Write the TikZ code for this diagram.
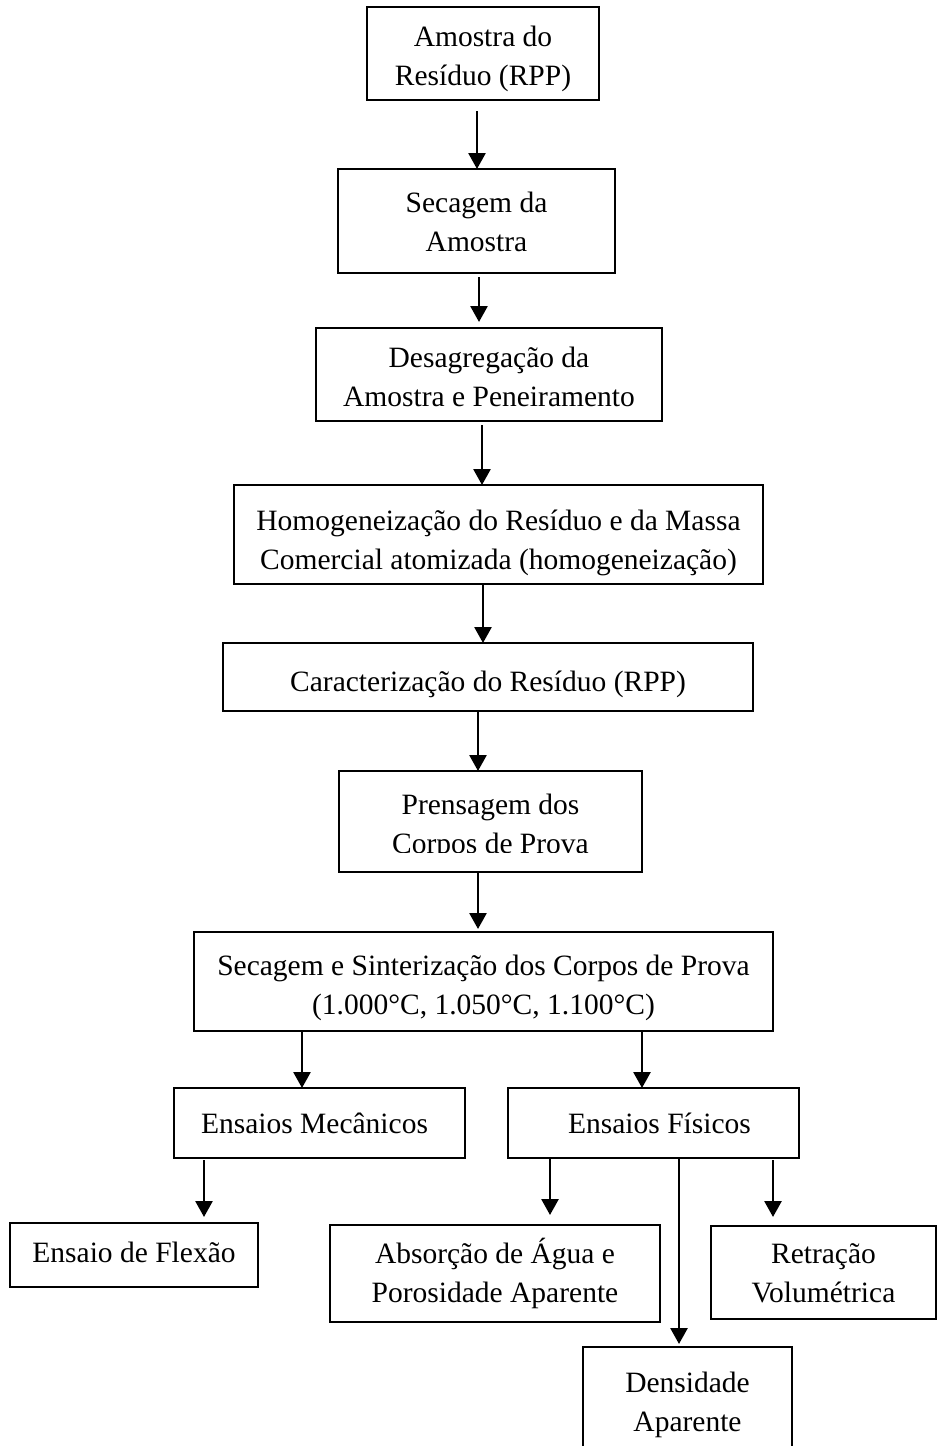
\documentclass[tikz,border=0pt]{standalone}
\usepackage{fontspec}
\setmainfont{Liberation Serif}
\usetikzlibrary{arrows.meta}
\newcommand\fs{\fontsize{29.5}{39}\selectfont}
\tikzset{
  box/.style={draw, line width=1.8pt, inner sep=0pt, outer sep=0pt},
  arr/.style={line width=2.7pt, -{Triangle[length=16pt,width=17pt]}},
  txt/.style={inner sep=0pt, outer sep=0pt, align=center, font=\fs}
}
\begin{document}
\begin{tikzpicture}[x=1pt,y=-1pt]
\useasboundingbox (0,0) rectangle (939,1446);
\clip (0,0) rectangle (939,1446);
\fill[white] (0,0) rectangle (939,1446);

\node[box, minimum width=232pt, minimum height=93pt] (b1) at (483,53.5) {};
\node[txt] (t1) at ([yshift=-5pt]b1.center) {Amostra do\\Resíduo (RPP)};
\node[box, minimum width=277pt, minimum height=104pt] (b2) at (476.5,221) {};
\node[txt] (t2) at ([yshift=-1pt]b2.center) {Secagem da\\Amostra};
\node[box, minimum width=346pt, minimum height=93pt] (b3) at (489,374.5) {};
\node[txt] (t3) at ([yshift=-2pt]b3.center) {Desagregação da\\Amostra e Peneiramento};
\node[box, minimum width=529pt, minimum height=99pt] (b4) at (498.5,534.5) {};
\node[txt] (t4) at ([yshift=-8pt]b4.center) {Homogeneização do Resíduo e da Massa\\Comercial atomizada (homogeneização)};
\node[box, minimum width=530pt, minimum height=68pt] (b5) at (488,677) {};
\node[txt] (t5) at ([yshift=-7pt]b5.center) {Caracterização do Resíduo (RPP)};
\node[box, minimum width=303pt, minimum height=101pt] (b6) at (490.5,821.5) {};
\coordinate (cut) at (0,852);
\begin{scope}
  \clip (b6.north west) rectangle (b6.east |- cut);
  \node[txt] (t6) at ([yshift=-5pt]b6.center) {Prensagem dos\\Corpos de Prova};
\end{scope}
\node[box, minimum width=579pt, minimum height=99pt] (b7) at (483.5,981.5) {};
\node[txt] (t7) at ([yshift=-6pt]b7.center) {Secagem e Sinterização dos Corpos de Prova\\(1.000°C, 1.050°C, 1.100°C)};
\node[box, minimum width=291pt, minimum height=70pt] (b8) at (319.5,1123) {};
\node[txt] (t8) at ([xshift=-5pt]b8.center) {Ensaios Mecânicos};
\node[box, minimum width=291pt, minimum height=70pt] (b9) at (653.5,1123) {};
\node[txt] (t9) at ([xshift=6pt]b9.center) {Ensaios Físicos};
\node[box, minimum width=248pt, minimum height=64pt] (b10) at (134,1255) {};
\node[txt] (t10) at ([yshift=3pt]b10.center) {Ensaio de Flexão};
\node[box, minimum width=330pt, minimum height=97pt] (b11) at (495,1273.5) {};
\node[txt] (t11) at (b11.center) {Absorção de Água e\\Porosidade Aparente};
\node[box, minimum width=225pt, minimum height=93pt] (b12) at (823.5,1272.5) {};
\node[txt] (t12) at ([yshift=-1pt]b12.center) {Retração\\Volumétrica};
\node[box, minimum width=209pt, minimum height=108pt] (b13) at (687.5,1401) {};
\node[txt] (t13) at ([yshift=-4pt]b13.center) {Densidade\\Aparente};

\coordinate (x1) at (477,0);
\coordinate (x2) at (479,0);
\coordinate (x3) at (482,0);
\coordinate (x4) at (483,0);
\coordinate (x5) at (478,0);
\coordinate (x7) at (302,0);
\coordinate (x8) at (642,0);
\coordinate (x9) at (204,0);
\coordinate (x10) at (550,0);
\coordinate (x11) at (679,0);
\coordinate (x12) at (773,0);

\draw[arr, shorten <=11pt] (b1.south -| x1) -- (b2.north -| x1);
\draw[arr, shorten <=4pt, shorten >=6pt] (b2.south -| x2) -- (b3.north -| x2);
\draw[arr, shorten <=4pt] (b3.south -| x3) -- (b4.north -| x3);
\draw[arr] (b4.south -| x4) -- (b5.north -| x4);
\draw[arr] (b5.south -| x5) -- (b6.north -| x5);
\draw[arr, shorten >=3pt] (b6.south -| x5) -- (b7.north -| x5);
\draw[arr] (b7.south -| x7) -- (b8.north -| x7);
\draw[arr] (b7.south -| x8) -- (b9.north -| x8);
\draw[arr, shorten <=2pt, shorten >=6pt] (b8.south -| x9) -- (b10.north -| x9);
\draw[arr, shorten >=10pt] (b9.south -| x10) -- (b11.north -| x10);
\draw[arr, shorten >=3pt] (b9.south -| x11) -- (b13.north -| x11);
\draw[arr, shorten <=2pt, shorten >=9pt] (b9.south -| x12) -- (b12.north -| x12);
\end{tikzpicture}
\end{document}
